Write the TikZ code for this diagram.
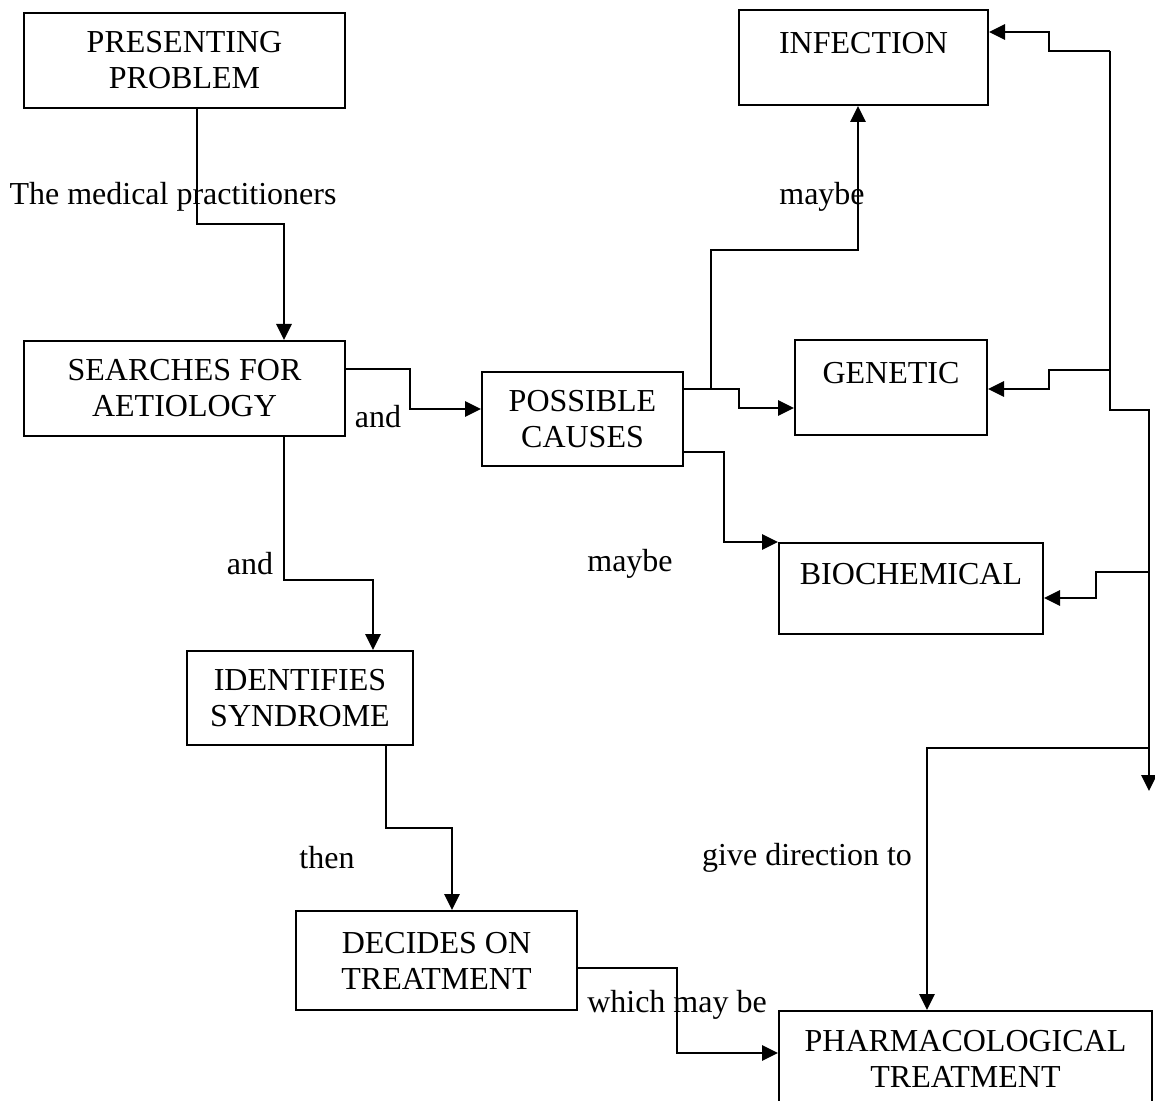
\documentclass[tikz,border=0pt]{standalone}
\usepackage{fontspec}
\setmainfont{Liberation Serif}
\usetikzlibrary{arrows.meta}
\newcommand{\uptext}[1]{\raisebox{7pt}[\height][\depth]{#1}}
\begin{document}
\begin{tikzpicture}[x=0.5pt,y=-0.5pt,
  box/.style={draw,line width=1pt,inner sep=0pt,align=center,font=\fontsize{16}{18}\selectfont},
  lab/.style={inner sep=0pt,font=\fontsize{16}{18}\selectfont},
  con/.style={line width=1.4pt},
  arr/.style={con,-{Triangle[length=8pt,width=7.5pt]}}]
\useasboundingbox (0,0) rectangle (1155,1101);
% boxes
\node[box,minimum width=160.5pt,minimum height=47.5pt] (pp)  at (184.5,60.5) {PRESENTING\\PROBLEM};
\node[box,minimum width=124.5pt,minimum height=47.5pt] (inf) at (863.5,57.5) {\uptext{INFECTION}};
\node[box,minimum width=160.5pt,minimum height=47.5pt] (sa)  at (184.5,388.5) {SEARCHES FOR\\AETIOLOGY};
\node[box,minimum width=100.5pt,minimum height=47pt]   (pc)  at (582.5,419) {POSSIBLE\\CAUSES};
\node[box,minimum width=96pt,minimum height=47.5pt]    (gen) at (891,387.5) {\uptext{GENETIC}};
\node[box,minimum width=132pt,minimum height=45.5pt]   (bio) at (911,588.5) {\uptext{BIOCHEMICAL}};
\node[box,minimum width=113pt,minimum height=47pt]     (ids) at (300,698) {IDENTIFIES\\SYNDROME};
\node[box,minimum width=140.5pt,minimum height=49.5pt] (dec) at (436.5,960.5) {DECIDES ON\\TREATMENT};
\node[box,minimum width=186.5pt,minimum height=47.5pt] (ph)  at (965.5,1058.5) {PHARMACOLOGICAL\\TREATMENT};
% labels
\node[lab] (l1) at (173,197) {The medical practitioners};
\node[lab] (l2) at (822,197) {maybe};
\node[lab] (l3) at (378,417) {and};
\node[lab] (l4) at (250,564) {and};
\node[lab] (l5) at (630,564) {maybe};
\node[lab] (l6) at (327,858) {then};
\node[lab] (l7) at (807,858) {give direction to};
\node[lab] (l8) at (677,1005) {which may be};
% junction coordinates
\coordinate (j1) at (711,389);
\coordinate (r1) at (1110,51);
\coordinate (r2) at (1110,370);
\coordinate (r3) at (1149,572);
\coordinate (r4) at (1149,748);
% connectors
\draw[arr] (197,0 |- pp.south) -- (197,224) -- (284,224) -- (284,0 |- sa.north);
\draw[arr] (sa.east |- 0,369) -- (410,369) -- (410,409) -- (pc.west |- 0,409);
\draw[arr] (284,0 |- sa.south) -- (284,580) -- (373,580) -- (373,0 |- ids.north);
\draw[arr] (386,0 |- ids.south) -- (386,828) -- (452,828) -- (452,0 |- dec.north);
\draw[arr] (dec.east |- 0,968) -- (677,968) -- (677,1053) -- (ph.west |- 0,1053);
\draw[arr] (pc.east |- j1) -- (739,389) -- (739,408) -- (gen.west |- 0,408);
\draw[arr] (j1) -- (711,250) -- (858,250) -- (858,0 |- inf.south);
\draw[arr] (pc.east |- 0,452) -- (724,452) -- (724,0 |- bio.north) -- (bio.north west);
% right bus
\draw[arr] (r1) -- (1110,410) -- (1149,410) -- (1149,791);
\draw[arr] (r1) -- (1049,51) -- (1049,32) -- (inf.east |- 0,32);
\draw[arr] (r2) -- (1049,370) -- (1049,389) -- (gen.east |- 0,389);
\draw[arr] (r3) -- (1096,572) -- (1096,598) -- (bio.east |- 0,598);
\draw[arr] (r4) -- (927,748) -- (927,0 |- ph.north);
\end{tikzpicture}
\end{document}
